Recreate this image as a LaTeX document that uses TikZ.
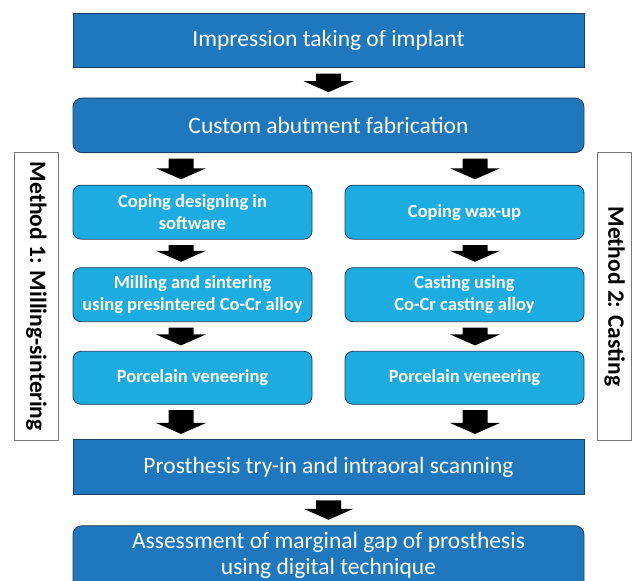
\documentclass[tikz,border=0pt]{standalone}
\usepackage{fontspec}
\setmainfont{Carlito}
\usetikzlibrary{calc}
\definecolor{darkblue}{RGB}{31,120,190}
\definecolor{lightblue}{RGB}{29,172,226}
\definecolor{darkedge}{RGB}{32,62,96}
\definecolor{grayedge}{RGB}{120,120,120}
\tikzset{
  bigbox/.style={draw=darkedge, line width=0.9pt, fill=darkblue, text=white,
    minimum width=511pt, minimum height=54.5pt, inner sep=0pt,
    font=\fontsize{23.5}{28}\selectfont},
  biground/.style={bigbox, rounded corners=9pt},
  stepbox/.style={draw=darkedge, line width=0.8pt, fill=lightblue, rounded corners=8pt,
    text=white, minimum width=239pt, minimum height=54pt, inner sep=0pt, align=center,
    font=\bfseries\fontsize{18.5}{22.5}\selectfont},
  methodbox/.style={draw=grayedge, line width=0.8pt, fill=white,
    minimum height=287.3pt, inner sep=0pt},
  methodtext/.style={rotate=-90, font=\bfseries\fontsize{23.5}{28}\selectfont, text=black},
  labeltext/.style={text=white, align=center, font=\fontsize{23.5}{25.5}\selectfont},
}
% block arrow: from anchor #1 to anchor #2, at the x of coordinate #3
\newcommand{\blkarrow}[3]{%
  \fill[black] let \p1=(#1), \p2=(#2), \p3=(#3) in
    (\x3-12.5pt,\y1-5.5pt) -- (\x3+12.5pt,\y1-5.5pt) -- (\x3+12.5pt,\y2+16.5pt)
    -- (\x3+25pt,\y2+16.5pt) -- (\x3,\y2+5.5pt) -- (\x3-25pt,\y2+16.5pt)
    -- (\x3-12.5pt,\y2+16.5pt) -- cycle;}
\begin{document}
\begin{tikzpicture}[x=1pt,y=-1pt]
\useasboundingbox (0,0) rectangle (632,581);
\fill[white] (0,0) rectangle (632,581);

% side method boxes
\node[methodbox, minimum width=43.7pt] (m1) at (36.5,296.3) {};
\node[methodtext] (m1t) at (m1.center) {Method 1: Milling-sintering};
\node[methodbox, minimum width=33.8pt] (m2) at (614.6,296.3) {};
\node[methodtext] (m2t) at (m2.center) {Method 2: Casting};

% main boxes
\node[bigbox] (top) at (328.5,40.5) {Impression taking of implant};
\node[biground] (cab) at (328.5,125.35) {Custom abutment fabrication};

\node[stepbox] (L1) at (192.5,212.15) {Coping designing in\\software};
\node[stepbox] (L2) at (192.5,294.65) {Milling and sintering\\using presintered Co-Cr alloy};
\node[stepbox, minimum height=53pt] (L3) at (192.5,377.8) {Porcelain veneering};

\node[stepbox] (R1) at (464.5,212.15) {Coping wax-up};
\node[stepbox] (R2) at (464.5,294.65) {Casting using\\Co-Cr casting alloy};
\node[stepbox, minimum height=53pt] (R3) at (464.5,377.8) {Porcelain veneering};

\node[bigbox] (pros) at (328.5,467.15) {Prosthesis try-in and intraoral scanning};
\node[biground, minimum height=74.3pt] (assess) at (328.5,562.85) {};
\node[labeltext] (assesst) at (328.5,555.5) {Assessment of marginal gap of prosthesis\\using digital technique};

% arrow columns
\coordinate (colM) at (328.5,0);
\coordinate (colL) at (181,0);
\coordinate (colR) at (475,0);

\blkarrow{top.south}{cab.north}{colM}
\blkarrow{cab.south}{L1.north}{colL}
\blkarrow{cab.south}{R1.north}{colR}
\blkarrow{L1.south}{L2.north}{colL}
\blkarrow{L2.south}{L3.north}{colL}
\blkarrow{R1.south}{R2.north}{colR}
\blkarrow{R2.south}{R3.north}{colR}
\blkarrow{L3.south}{pros.north}{colL}
\blkarrow{R3.south}{pros.north}{colR}
\blkarrow{pros.south}{assess.north}{colM}
\end{tikzpicture}
\end{document}
